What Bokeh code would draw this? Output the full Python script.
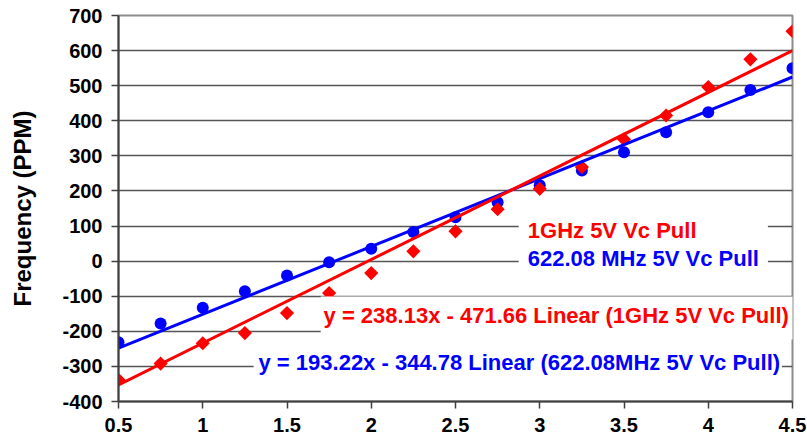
import numpy as np
from bokeh.plotting import figure
from bokeh.models import Range1d, FixedTicker, NumeralTickFormatter, Label, BoxAnnotation
from bokeh.embed import file_html
from bokeh.resources import INLINE

# ---- data ----
vc = [0.5, 0.75, 1.0, 1.25, 1.5, 1.75, 2.0, 2.25, 2.5, 2.75, 3.0, 3.25, 3.5, 3.75, 4.0, 4.25, 4.5]
ppm_622 = [-231, -178, -133, -86, -41, -3, 35, 83, 125, 168, 216, 258, 310, 367, 424, 488, 550]
ppm_1g = [-338, -292, -234, -205, -148, -91, -34, 28, 85, 148, 206, 268, 347, 415, 496, 575, 655]
fit_622 = (193.22, -344.78)   # slope, intercept
fit_1g = (238.13, -471.66)
x_ticks = [0.5, 1.0, 1.5, 2.0, 2.5, 3.0, 3.5, 4.0, 4.5]
y_ticks = [-400, -300, -200, -100, 0, 100, 200, 300, 400, 500, 600, 700]
name_1g = "1GHz 5V Vc Pull"
name_622 = "622.08 MHz 5V Vc Pull"
eq_1g = "y = 238.13x - 471.66 Linear (1GHz 5V Vc Pull)"
eq_622 = "y = 193.22x - 344.78 Linear (622.08MHz 5V Vc Pull)"
y_title = "Frequency (PPM)"

RED = "#FF0000"
BLUE = "#0000FF"
FONT = "Liberation Sans"

p = figure(width=807, height=445, output_backend="svg", toolbar_location=None,
           x_range=Range1d(vc[0], vc[-1]), y_range=Range1d(y_ticks[0], y_ticks[-1]),
           min_border_left=118, min_border_right=15, min_border_top=15, min_border_bottom=44)
p.background_fill_color = "white"
p.border_fill_color = "white"
p.outline_line_color = "#8c8c8c"
p.outline_line_width = 2

# axes
for ax in (p.xaxis[0], p.yaxis[0]):
    ax.major_label_text_font = FONT
    ax.major_label_text_font_style = "bold"
    ax.major_label_text_font_size = "20px"
    ax.major_label_text_color = "black"
    ax.axis_line_color = "#404040"
    ax.axis_line_width = 2
    ax.major_tick_line_color = "#404040"
    ax.major_tick_line_width = 1.5
    ax.major_tick_out = 7
    ax.major_tick_in = 0
    ax.minor_tick_line_color = None

p.xaxis.ticker = FixedTicker(ticks=x_ticks)
p.xaxis.formatter = NumeralTickFormatter(format="0.[0]")
p.xaxis.major_label_standoff = 9
p.yaxis.ticker = FixedTicker(ticks=y_ticks)
p.yaxis.formatter = NumeralTickFormatter(format="0")
p.yaxis.major_label_standoff = 9
p.yaxis.axis_label = y_title
p.yaxis.axis_label_text_font = FONT
p.yaxis.axis_label_text_font_style = "bold"
p.yaxis.axis_label_text_font_size = "24px"
p.yaxis.axis_label_text_color = "black"
p.yaxis.axis_label_standoff = 23

p.xgrid.grid_line_color = None
p.ygrid.grid_line_color = "#555555"
p.ygrid.grid_line_width = 1.3

# markers
r_622 = p.scatter(vc, ppm_622, marker="circle", size=12, fill_color=BLUE, line_color=None)
r_1g = p.scatter(vc, ppm_1g, marker="square", size=10, angle=np.pi / 4, fill_color=RED, line_color=None)

# trend lines from the fitted equations
xl = [vc[0], vc[-1]]
p.line(xl, [fit_622[0] * x + fit_622[1] for x in xl], line_color=BLUE, line_width=3)
p.line(xl, [fit_1g[0] * x + fit_1g[1] for x in xl], line_color=RED, line_width=3)

# white backgrounds behind legend and equation texts
def white_box(left, right, top, bottom):
    return BoxAnnotation(left=left, right=right, top=top, bottom=bottom,
                         fill_color="white", fill_alpha=1.0, line_color=None)

p.add_layout(white_box(2.875, 4.354, 149.9, -55.3))     # legend
p.add_layout(white_box(1.700, 4.6, -100.9, -223.4))     # red equation
p.add_layout(white_box(1.302, 4.437, -240.6, -328.9))   # blue equation

def text(x, y, s, color):
    return Label(x=x, y=y, text=s, text_color=color, text_font=FONT,
                 text_font_style="bold", text_font_size="22px", text_baseline="alphabetic")

# legend texts
p.add_layout(text(2.929, 88.4, name_1g, RED))
p.add_layout(text(2.929, 7.7, name_622, BLUE))

# equation labels
p.add_layout(text(1.717, -153.8, eq_1g, RED))
p.add_layout(text(1.331, -288.5, eq_622, BLUE))

open("out.html", "w").write(file_html(p, INLINE))
